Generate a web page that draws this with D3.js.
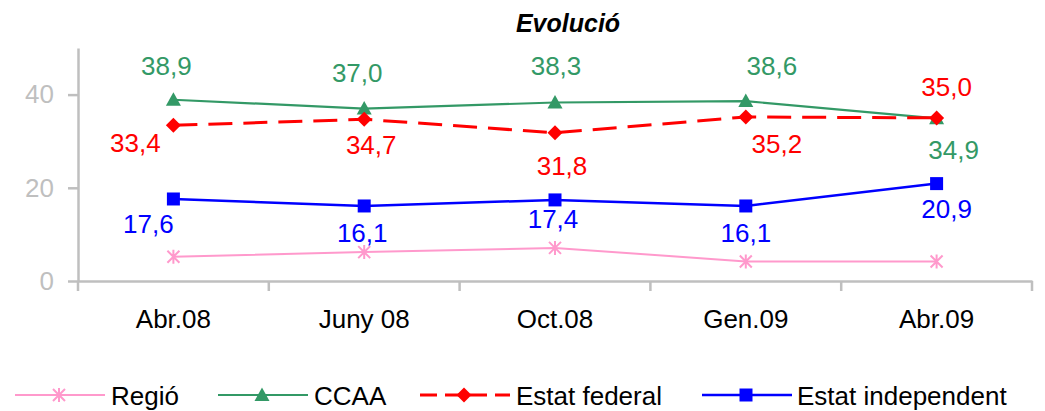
<!DOCTYPE html>
<html>
<head>
<meta charset="utf-8">
<script src="https://cdn.jsdelivr.net/npm/d3@7"></script>
<style>
  html, body { margin: 0; padding: 0; background: #fff; }
  svg { display: block; font-family: "Liberation Sans", Arial, sans-serif; }
</style>
</head>
<body>
<svg id="chart" width="1045" height="411"></svg>
<script>
// Survey periods and the share (%) preferring each option
const categories = ["Abr.08", "Juny 08", "Oct.08", "Gen.09", "Abr.09"];
const regio = [5.2, 6.2, 7.1, 4.2, 4.2];
const ccaa = [38.9, 37.0, 38.3, 38.6, 34.9];
const estatFederal = [33.4, 34.7, 31.8, 35.2, 35.0];
const estatIndependent = [17.6, 16.1, 17.4, 16.1, 20.9];
const yTicks = [0, 20, 40];

const seriesNames = ["Regió", "CCAA", "Estat federal", "Estat independent"];

// Value-label placement relative to each point (dx, dy of the text baseline centre)
const labelOffsets = {
  "CCAA": [[-7, -25], [-7, -27], [1, -28], [26, -26], [17, 41]],
  "Estat federal": [[-38, 27], [7, 35], [7, 42], [31, 36], [10, -22]],
  "Estat independent": [[-25, 34], [-2, 36], [-2, 28], [0, 36], [10, 34]]
};

const series = [
  { name: seriesNames[0], values: regio, color: "#FF99CC", width: 2, dash: null, marker: "star", labels: false },
  { name: seriesNames[1], values: ccaa, color: "#339966", width: 2.2, dash: null, marker: "triangle", labels: true },
  { name: seriesNames[2], values: estatFederal, color: "#FF0000", width: 3, dash: "24,11", marker: "diamond", labels: true },
  { name: seriesNames[3], values: estatIndependent, color: "#0000FF", width: 2.5, dash: null, marker: "square", labels: true }
];

const svg = d3.select("#chart");
const plot = { left: 78, right: 1032, top: 48, bottom: 281 };
const axisColor = "#BFBFBF";
const fontSize = 26;

const x = d3.scaleBand().domain(categories).range([plot.left, plot.right]).padding(0);
const y = d3.scaleLinear().domain([0, 50]).range([plot.bottom, plot.top]);
const cx = c => x(c) + x.bandwidth() / 2;

// Title
svg.append("text")
  .attr("x", 568).attr("y", 32)
  .attr("text-anchor", "middle")
  .attr("font-size", 25).attr("font-weight", "bold").attr("font-style", "italic")
  .attr("fill", "#000")
  .text("Evolució");

// Y axis
const yAxis = svg.append("g")
  .attr("transform", `translate(${plot.left},0)`)
  .call(d3.axisLeft(y).tickValues(yTicks).tickSize(10).tickSizeOuter(0).tickPadding(14));
yAxis.select(".domain").attr("stroke", axisColor).attr("stroke-width", 2.5);
yAxis.selectAll(".tick line").attr("stroke", axisColor).attr("stroke-width", 2.5);
yAxis.selectAll(".tick text")
  .attr("fill", axisColor).attr("font-size", fontSize)
  .attr("font-family", "Liberation Sans, Arial, sans-serif");

// X axis: labels centred in each band, tick marks on the band boundaries
const xAxis = svg.append("g")
  .attr("transform", `translate(0,${plot.bottom})`)
  .call(d3.axisBottom(x).tickSize(0).tickSizeOuter(0).tickPadding(29));
xAxis.select(".domain").attr("stroke", axisColor).attr("stroke-width", 2.5);
xAxis.selectAll(".tick text")
  .attr("fill", "#000").attr("font-size", fontSize)
  .attr("font-family", "Liberation Sans, Arial, sans-serif");
const boundaries = categories.map(c => x(c)).concat([x.range()[1]]);
xAxis.selectAll("line.boundary")
  .data(boundaries)
  .join("line")
  .attr("class", "boundary")
  .attr("x1", d => d).attr("x2", d => d)
  .attr("y1", 0).attr("y2", 10)
  .attr("stroke", axisColor).attr("stroke-width", 2.5);

// Marker shapes
function markerPath(type) {
  switch (type) {
    case "triangle": return "M0,-7.5L7.5,6L-7.5,6Z";
    case "diamond": return "M0,-7.5L7.5,0L0,7.5L-7.5,0Z";
    case "square": return "M-6.5,-6.5H6.5V6.5H-6.5Z";
    case "star": return "M0,-7V7M-6,-6L6,6M-6,6L6,-6";
  }
}
function drawMarker(g, type, color) {
  const p = g.append("path").attr("d", markerPath(type));
  if (type === "star") p.attr("fill", "none").attr("stroke", color).attr("stroke-width", 2);
  else p.attr("fill", color).attr("stroke", "none");
  return p;
}

const line = d3.line().x((d, i) => cx(categories[i])).y(d => y(d));

series.forEach(s => {
  const g = svg.append("g").attr("class", "series");
  g.append("path")
    .datum(s.values)
    .attr("d", line)
    .attr("fill", "none")
    .attr("stroke", s.color)
    .attr("stroke-width", s.width)
    .attr("stroke-dasharray", s.dash);
  s.values.forEach((v, i) => {
    const m = g.append("g").attr("transform", `translate(${cx(categories[i])},${y(v)})`);
    drawMarker(m, s.marker, s.color);
  });
});

// Value labels
series.filter(s => s.labels).forEach(s => {
  svg.append("g").selectAll("text")
    .data(s.values)
    .join("text")
    .attr("x", (d, i) => cx(categories[i]) + labelOffsets[s.name][i][0])
    .attr("y", (d, i) => y(d) + labelOffsets[s.name][i][1])
    .attr("text-anchor", "middle")
    .attr("font-size", fontSize)
    .attr("fill", s.color)
    .text(d => d3.format(".1f")(d).replace(".", ","));
});

// Legend
const legendItems = [
  { x: 15, textX: 111 },
  { x: 218, textX: 314 },
  { x: 420, textX: 516 },
  { x: 702, textX: 797 }
];
const legendY = 395;
series.forEach((s, i) => {
  const li = legendItems[i];
  const g = svg.append("g").attr("class", "legend-item");
  g.append("line")
    .attr("x1", li.x).attr("x2", li.x + 90)
    .attr("y1", legendY).attr("y2", legendY)
    .attr("stroke", s.color).attr("stroke-width", s.width)
    .attr("stroke-dasharray", s.dash ? "17,8" : null);
  const m = g.append("g").attr("transform", `translate(${li.x + 44},${legendY})`);
  drawMarker(m, s.marker, s.color);
  g.append("text")
    .attr("x", li.textX).attr("y", legendY + 10)
    .attr("font-size", fontSize).attr("fill", "#000")
    .text(s.name);
});
</script>
</body>
</html>
